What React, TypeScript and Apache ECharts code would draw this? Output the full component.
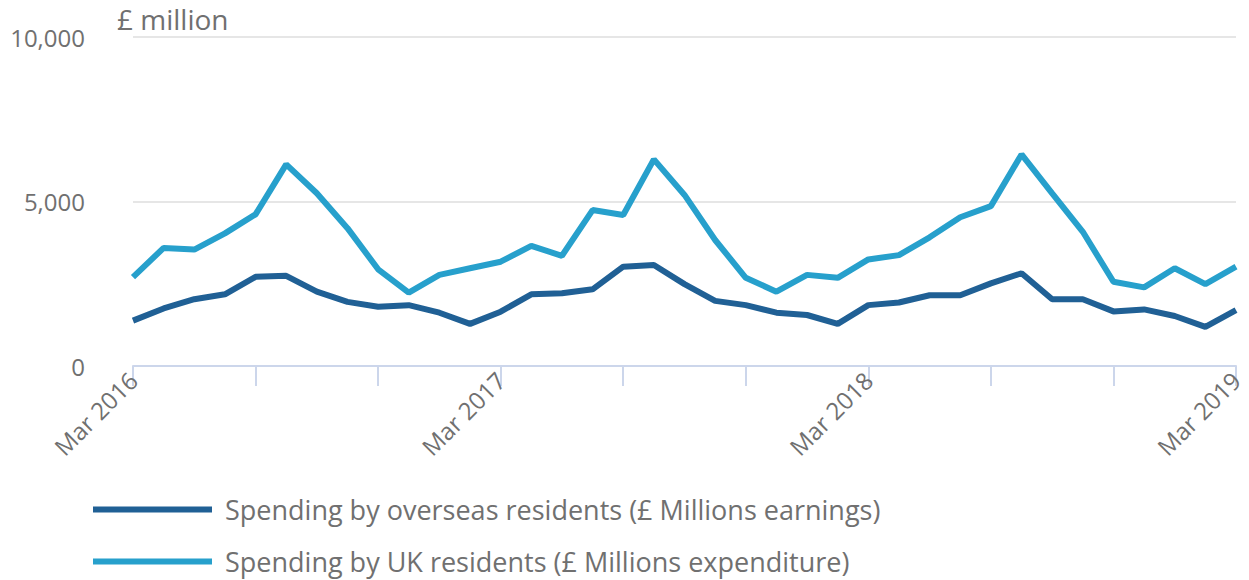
import React, { useEffect, useRef } from "react";
import * as echarts from "echarts";

const months = [
  "Mar 2016","Apr 2016","May 2016","Jun 2016","Jul 2016","Aug 2016","Sep 2016","Oct 2016","Nov 2016","Dec 2016","Jan 2017","Feb 2017",
  "Mar 2017","Apr 2017","May 2017","Jun 2017","Jul 2017","Aug 2017","Sep 2017","Oct 2017","Nov 2017","Dec 2017","Jan 2018","Feb 2018",
  "Mar 2018","Apr 2018","May 2018","Jun 2018","Jul 2018","Aug 2018","Sep 2018","Oct 2018","Nov 2018","Dec 2018","Jan 2019","Feb 2019",
  "Mar 2019",
];

const overseas = [
  1380, 1750, 2030, 2180, 2710, 2740, 2260, 1950, 1800, 1850, 1620, 1280,
  1650, 2180, 2210, 2330, 3020, 3070, 2490, 1980, 1850, 1620, 1550, 1280,
  1850, 1930, 2150, 2150, 2510, 2820, 2030, 2030, 1660, 1720, 1520, 1190,
  1700,
];

const ukResidents = [
  2700, 3590, 3540, 4030, 4610, 6130, 5250, 4190, 2940, 2230, 2770, 2970,
  3170, 3650, 3350, 4740, 4590, 6280, 5200, 3830, 2680, 2260, 2770, 2680,
  3240, 3370, 3910, 4520, 4860, 6430, 5250, 4080, 2560, 2390, 2970, 2490,
  3020,
];

const seriesNames = [
  "Spending by overseas residents (£ Millions earnings)",
  "Spending by UK residents (£ Millions expenditure)",
];

const yTicks = { min: 0, max: 10000, interval: 5000 };

export default function App() {
  const ref = useRef<HTMLDivElement>(null);
  useEffect(() => {
    if (!ref.current) return;
    document.body.style.margin = "0";
    const chart = echarts.init(ref.current, null, { renderer: "svg" });
    const font = "'Open Sans', sans-serif";
    const grey = "#707070";
    const legendText = { fontFamily: font, fontSize: 27, color: grey, padding: [0, 0, 0, 8] };
    chart.setOption({
      animation: false,
      textStyle: { fontFamily: font },
      title: {
        text: "£ million",
        left: 117,
        top: 5,
        padding: 0,
        textStyle: { fontFamily: font, fontSize: 28, fontWeight: "normal", color: grey },
      },
      legend: [
        {
          left: 88,
          top: 491,
          itemWidth: 119,
          itemHeight: 6,
          icon: "rect",
          textStyle: legendText,
          data: [seriesNames[0]],
        },
        {
          left: 88,
          top: 543,
          itemWidth: 119,
          itemHeight: 6,
          icon: "rect",
          textStyle: legendText,
          data: [seriesNames[1]],
        },
      ],
      grid: { left: 133, right: 13, top: 37, bottom: 214, containLabel: false },
      xAxis: {
        type: "category",
        data: months,
        boundaryGap: false,
        axisLine: { lineStyle: { color: "#ccd6eb", width: 2 } },
        axisTick: {
          alignWithLabel: true,
          length: 20,
          interval: (i: number) => i % 4 === 0,
          lineStyle: { color: "#ccd6eb", width: 2 },
        },
        axisLabel: {
          interval: (i: number) => i % 12 === 0,
          rotate: 45,
          fontSize: 24,
          color: grey,
          fontFamily: font,
          margin: 10,
        },
        splitLine: { show: false },
      },
      yAxis: {
        type: "value",
        min: yTicks.min,
        max: yTicks.max,
        interval: yTicks.interval,
        axisLine: { show: false },
        axisTick: { show: false },
        axisLabel: {
          fontSize: 24,
          color: grey,
          fontFamily: font,
          margin: 48,
          formatter: (v: number) => v.toLocaleString("en-GB"),
        },
        splitLine: { lineStyle: { color: "#e6e6e6", width: 2 } },
      },
      series: [
        {
          name: seriesNames[0],
          type: "line",
          data: overseas,
          showSymbol: false,
          symbol: "none",
          lineStyle: { color: "#206095", width: 6 },
          itemStyle: { color: "#206095" },
          z: 3,
        },
        {
          name: seriesNames[1],
          type: "line",
          data: ukResidents,
          showSymbol: false,
          symbol: "none",
          lineStyle: { color: "#27a0cc", width: 6 },
          itemStyle: { color: "#27a0cc" },
          z: 2,
        },
      ],
    });
    return () => chart.dispose();
  }, []);
  return <div ref={ref} style={{ width: 1249, height: 580 }} />;
}
